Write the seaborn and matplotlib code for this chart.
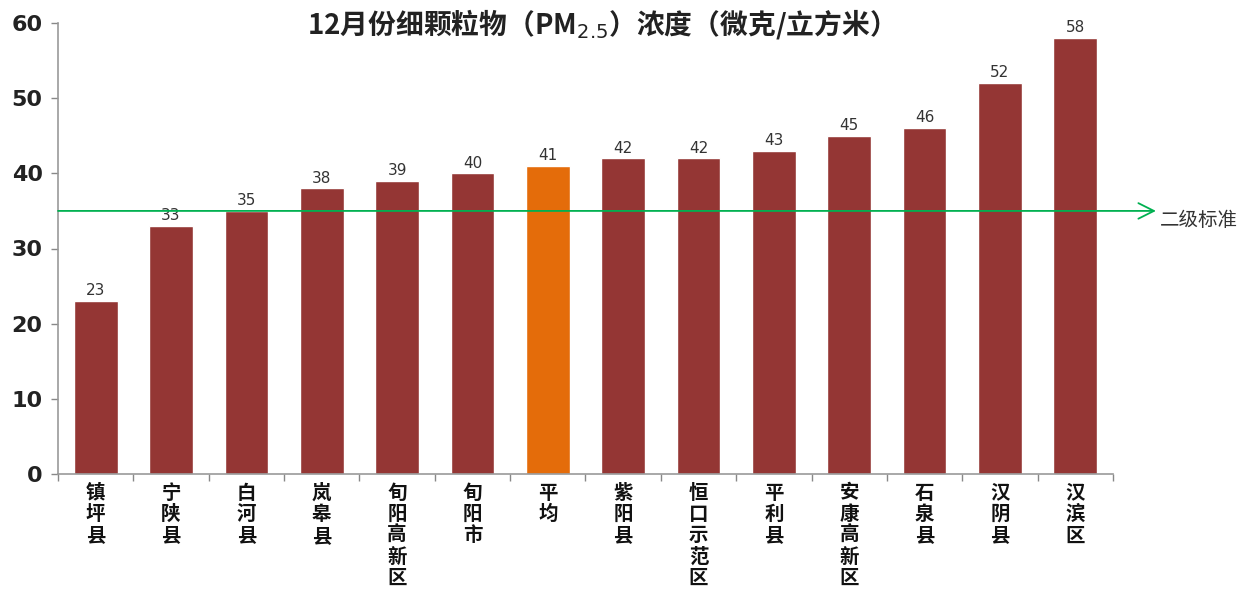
import matplotlib
matplotlib.use("Agg")
import matplotlib.pyplot as plt
import seaborn as sns
import numpy as np

categories = ["镇坪县", "宁陕县", "白河县", "岚皋县", "旬阳高新区", "旬阳市", "平均",
              "紫阳县", "恒口示范区", "平利县", "安康高新区", "石泉县", "汉阴县", "汉滨区"]
values = [23, 33, 35, 38, 39, 40, 41, 42, 42, 43, 45, 46, 52, 58]
standard_value = 35
standard_label = "二级标准"
title = "12月份细颗粒物（PM$_{2.5}$）浓度（微克/立方米）"
yticks = [0, 10, 20, 30, 40, 50, 60]

bar_color = "#943634"
avg_color = "#E46C0A"
colors = [avg_color if c == "平均" else bar_color for c in categories]

sns.set_theme(style="white")
plt.rcParams['font.family'] = ['Noto Sans CJK SC', 'DejaVu Sans']

fig = plt.figure(figsize=(12.42, 5.9), dpi=100)
ax = fig.add_axes([58/1242, (590-474)/590, (1113-58)/1242, (474-23)/590])

sns.barplot(x=categories, y=values, hue=categories, palette=colors, legend=False,
            width=0.58, ax=ax, saturation=1)

ax.set_ylim(0, 60)
ax.set_xlim(-0.5, len(categories) - 0.5)
ax.set_yticks(yticks)
ax.set_yticklabels([str(t) for t in yticks], fontsize=16, fontweight='bold',
                   family=['DejaVu Sans'], color='#222222')
ax.tick_params(axis='y', which='major', direction='out', length=5, width=1,
               color='#888888', pad=6, left=True)

ax.set_xticks(range(len(categories)))
ax.set_xticklabels(["\n".join(c) for c in categories], fontsize=14, fontweight='bold',
                   linespacing=1.15, va='top', color='#111111')
ax.tick_params(axis='x', which='major', length=0, pad=7)
ax.set_xticks(np.arange(-0.5, len(categories), 1.0), minor=True)
ax.tick_params(axis='x', which='minor', direction='out', length=5, width=1,
               color='#888888', bottom=True)

for s in ['top', 'right']:
    ax.spines[s].set_visible(False)
for s in ['left', 'bottom']:
    ax.spines[s].set_color('#999999')
    ax.spines[s].set_linewidth(1.2)

ax.set_xlabel("")
ax.set_ylabel("")

for cont in ax.containers:
    ax.bar_label(cont, fontsize=11, color='#333333', padding=2, family=['DejaVu Sans'])

# standard line with arrow extending past the axes
ax.annotate("", xy=(len(categories) - 0.5 + 0.57, standard_value),
            xytext=(-0.5, standard_value),
            arrowprops=dict(arrowstyle='->', color='#00B050', lw=1.3,
                            mutation_scale=28, shrinkA=0, shrinkB=0),
            annotation_clip=False)
ax.text(len(categories) - 0.5 + 0.62, standard_value - 1.3, standard_label,
        fontsize=14, color='#333333', va='center', ha='left', clip_on=False)

fig.text(594/1242, 1 - 24/590, title, fontsize=20, fontweight='bold',
         ha='center', va='center', color='#222222')

fig.savefig("out.png", dpi=100)
